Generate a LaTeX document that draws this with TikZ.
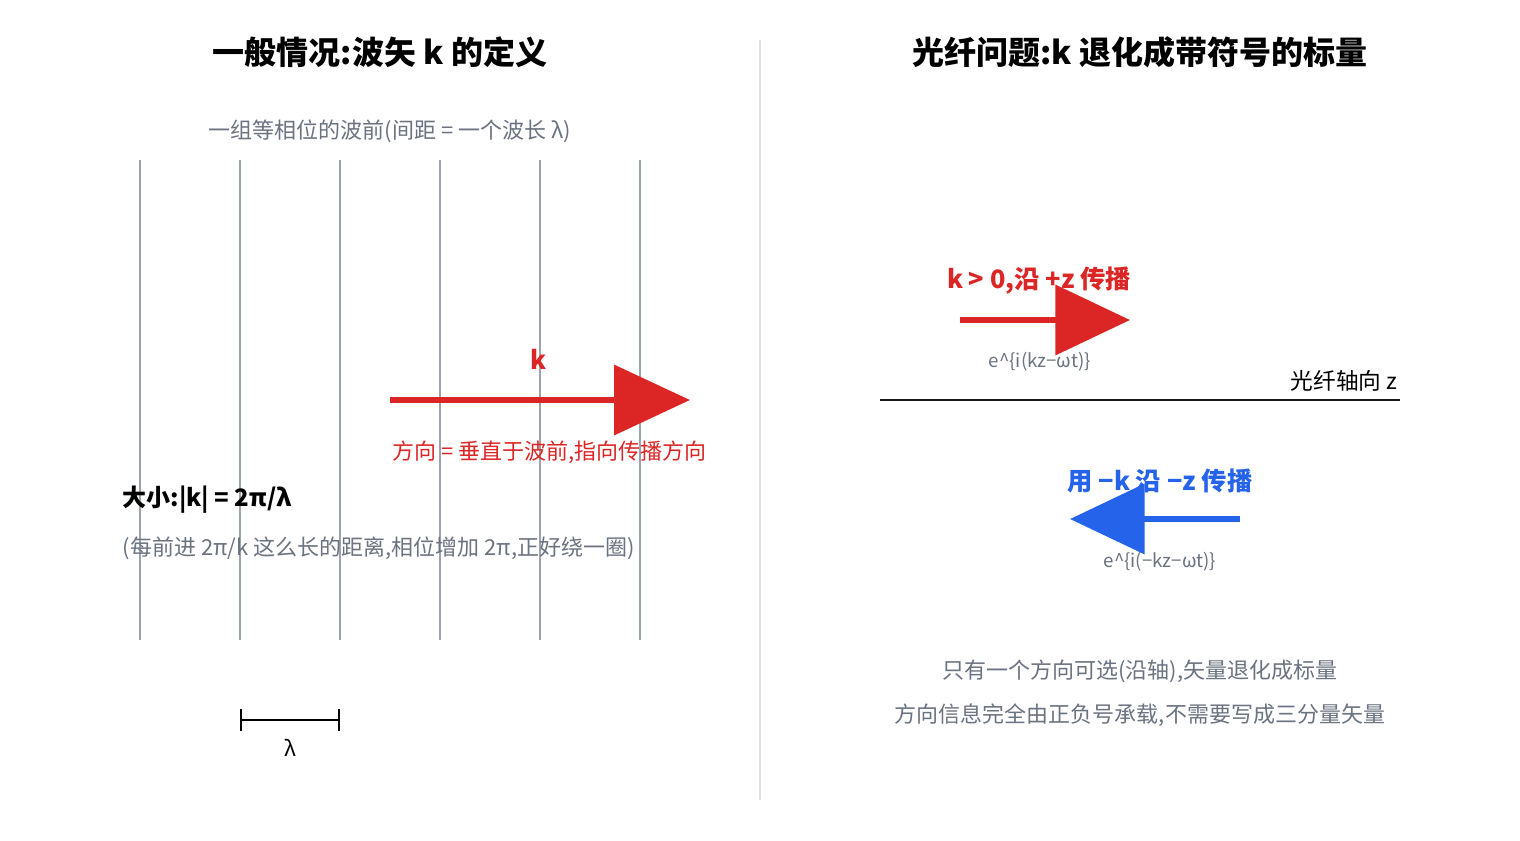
\documentclass[tikz,border=0pt]{standalone}
\usepackage{fontspec}
\setmainfont{Noto Sans CJK SC}
\usetikzlibrary{arrows.meta}
\definecolor{wgray}{HTML}{9CA3AF}
\definecolor{tgray}{HTML}{6B7280}
\definecolor{kred}{HTML}{DC2626}
\definecolor{kblue}{HTML}{2563EB}
\begin{document}
\begin{tikzpicture}[x=0.75pt,y=-0.75pt,
  title/.style={font=\fontsize{24}{28}\selectfont\bfseries,text=black},
  note/.style={font=\fontsize{16.5}{20}\selectfont,text=tgray},
  small/.style={font=\fontsize{14}{17}\selectfont,text=tgray},
  wave/.style={draw=wgray,line width=2.2pt},
  big/.style={line width=4.5pt,-{Triangle[length=57pt,width=52pt]}},
  sm/.style={line width=4.5pt,-{Triangle[length=56pt,width=52pt]}}]
\useasboundingbox[fill=white] (0,0) rectangle (1520,840);
\coordinate (d1) at (760,40); \coordinate (d2) at (760,800);
\draw[draw=black!12,line width=2pt] (d1) -- (d2);
\node[title] (t1) at (380,52) {一般情况:波矢 k 的定义};
\node[title] (t2) at (1140,52) {光纤问题:k 退化成带符号的标量};
\node[note] (sub) at (390,131) {一组等相位的波前(间距 = 一个波长 λ)};
\foreach \i in {1,...,6}{
  \coordinate (wt\i) at (40+100*\i,160); \coordinate (wb\i) at (40+100*\i,640);
  \draw[wave] (wt\i) -- (wb\i);}
\coordinate (ka) at (390,400); \coordinate (kb) at (690,400);
\draw[big,draw=kred,fill=kred] (ka) -- (kb);
\node[font=\fontsize{19}{22}\selectfont\bfseries,text=kred] (kl) at (539,359) {k};
\node[font=\fontsize{16.5}{20}\selectfont,text=kred,anchor=west] (dir) at (388,452) {方向 = 垂直于波前,指向传播方向};
\node[font=\fontsize{18}{22}\selectfont\bfseries,anchor=west] (mag) at (118,500) {大小:|k| = 2π/λ};
\node[note,anchor=west] (magn) at (118,548) {(每前进 2π/k 这么长的距离,相位增加 2π,正好绕一圈)};
\coordinate (la) at (240,720); \coordinate (lb) at (340,720);
\draw[line width=1.8pt,{Bar[width=16pt]}-{Bar[width=16pt]}] (la) -- (lb);
\node[font=\fontsize{16}{20}\selectfont] (lam) at (290,748) {λ};
% right
\node[font=\fontsize{19}{23}\selectfont\bfseries,text=kred] (pl) at (1039,281) {k > 0,沿 +z 传播};
\coordinate (pa) at (960,320); \coordinate (pb) at (1130,320);
\draw[sm,draw=kred,fill=kred] (pa) -- (pb);
\node[small] (pe) at (1040,362) {e\^{}\{i(kz−ωt)\}};
\node[font=\fontsize{17}{20}\selectfont,anchor=east] (ax) at (1402,381) {光纤轴向 z};
\coordinate (aa) at (880,400); \coordinate (ab) at (1400,400);
\draw[line width=2.2pt,draw=black!90] (aa) -- (ab);
\node[font=\fontsize{19}{23}\selectfont\bfseries,text=kblue] (nl) at (1160,481) {用 −k 沿 −z 传播};
\coordinate (na) at (1240,519); \coordinate (nb) at (1070,519);
\draw[sm,draw=kblue,fill=kblue] (na) -- (nb);
\node[small] (ne) at (1160,562) {e\^{}\{i(−kz−ωt)\}};
\node[note] (b1) at (1140,671) {只有一个方向可选(沿轴),矢量退化成标量};
\node[note] (b2) at (1140,715) {方向信息完全由正负号承载,不需要写成三分量矢量};
\end{tikzpicture}
\end{document}
